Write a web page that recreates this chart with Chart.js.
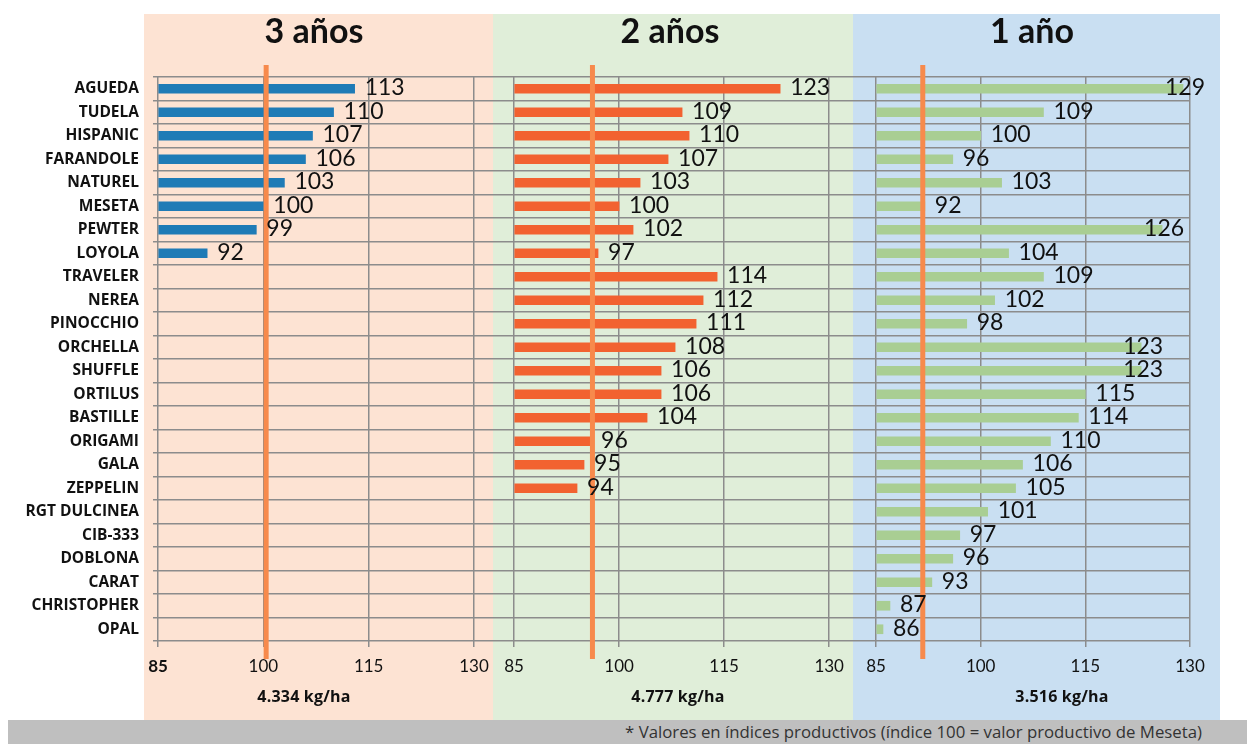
<!DOCTYPE html>
<html>
<head>
<meta charset="utf-8">
<script src="https://cdn.jsdelivr.net/npm/chart.js@4.4.1/dist/chart.umd.min.js"></script>
<style>
body { margin: 0; width: 1247px; height: 744px; position: relative; overflow: hidden; background: #fff; font-family: 'Open Sans', sans-serif; }
.panel { position: absolute; top: 14px; height: 706px; }
#bg1 { left: 144px; width: 349px; background: #fde3d3; }
#bg2 { left: 493px; width: 360px; background: #e0eed9; }
#bg3 { left: 853px; width: 367px; background: #c9dff2; }
canvas { position: absolute; top: 0; }
.title { position: absolute; top: 9px; width: 200px; margin-left: -100px; text-align: center; font: bold 34px Lato, sans-serif; color: #111; }
.unit { position: absolute; top: 685px; width: 200px; margin-left: -100px; text-align: center; font: bold 16px 'Open Sans', sans-serif; letter-spacing: 0.2px; color: #111; }
#footer { position: absolute; left: 8px; top: 720px; width: 1239px; height: 24px; background: #bfbfbf; }
#footer span { position: absolute; right: 45px; top: 0px; font: 16.8px 'Open Sans', sans-serif; color: #333; white-space: nowrap; }
</style>
</head>
<body>
<div class="panel" id="bg1"></div>
<div class="panel" id="bg2"></div>
<div class="panel" id="bg3"></div>
<canvas id="c1" width="493" height="720" style="left:0"></canvas>
<canvas id="c2" width="360" height="720" style="left:493px"></canvas>
<canvas id="c3" width="394" height="720" style="left:853px"></canvas>
<div class="title" style="left:314px">3 años</div>
<div class="title" style="left:670px">2 años</div>
<div class="title" style="left:1032px">1 año</div>
<div class="unit" style="left:304px">4.334 kg/ha</div>
<div class="unit" style="left:678px">4.777 kg/ha</div>
<div class="unit" style="left:1062px">3.516 kg/ha</div>
<div id="footer"><span>* Valores en índices productivos (índice 100 = valor productivo de Meseta)</span></div>
<script>
var varieties = ["AGUEDA", "TUDELA", "HISPANIC", "FARANDOLE", "NATUREL", "MESETA", "PEWTER", "LOYOLA",
    "TRAVELER", "NEREA", "PINOCCHIO", "ORCHELLA", "SHUFFLE", "ORTILUS", "BASTILLE", "ORIGAMI",
    "GALA", "ZEPPELIN", "RGT DULCINEA", "CIB-333", "DOBLONA", "CARAT", "CHRISTOPHER", "OPAL"];

var threeYears = [113, 110, 107, 106, 103, 100, 99, 92];
var twoYears = [123, 109, 110, 107, 103, 100, 102, 97, 114, 112, 111, 108, 106, 106, 104, 96, 95, 94];
var oneYear = [129, 109, 100, 96, 103, 92, 126, 104, 109, 102, 98, 123, 123, 115, 114, 110, 106, 105,
    101, 97, 96, 93, 87, 86];

var xTicks = [85, 100, 115, 130];
var refValues = [100.4, 96.2, 91.7];

var gridColor = '#8c8c8c';

// reference line + value labels, drawn over the bars
var overlayPlugin = {
    id: 'overlay',
    afterDatasetsDraw: function(chart, args, opts) {
        var ctx = chart.ctx;
        var x = chart.scales.x;
        var area = chart.chartArea;
        var px = x.getPixelForValue(opts.ref);
        ctx.save();
        ctx.strokeStyle = '#f78a4c';
        ctx.lineWidth = 5;
        ctx.beginPath();
        ctx.moveTo(px, area.top - 12);
        ctx.lineTo(px, area.bottom + 18);
        ctx.stroke();

        ctx.fillStyle = '#111';
        ctx.font = '23px Lato, sans-serif';
        ctx.textBaseline = 'middle';
        ctx.textAlign = 'left';
        var data = chart.data.datasets[0].data;
        chart.getDatasetMeta(0).data.forEach(function(bar, i) {
            var v = data[i];
            if (v == null) return;
            var tx = bar.x + 10;
            if (opts.insideAbove != null && v > opts.insideAbove) tx = bar.x - 18;
            ctx.fillText(String(v), tx, bar.y - 1);
        });
        ctx.restore();
    }
};

function makeChart(id, values, color, xmin, xmax, ref, showNames, padRight, insideAbove) {
    return new Chart(document.getElementById(id), {
        type: 'bar',
        data: {
            labels: varieties,
            datasets: [{
                data: values,
                backgroundColor: color,
                borderWidth: 0,
                barThickness: 9,
                base: 85
            }]
        },
        options: {
            indexAxis: 'y',
            responsive: false,
            animation: false,
            layout: { padding: { top: 77, left: 0, right: padRight, bottom: 0 } },
            plugins: {
                legend: { display: false },
                tooltip: { enabled: false },
                overlay: { ref: ref, insideAbove: insideAbove }
            },
            scales: {
                x: {
                    min: xmin,
                    max: xmax,
                    afterBuildTicks: function(axis) {
                        axis.ticks = xTicks.map(function(v) { return { value: v }; });
                    },
                    afterFit: function(scale) {
                        scale.height = 79;
                        scale.paddingLeft = 0;
                        scale.paddingRight = 0;
                    },
                    border: { display: false },
                    grid: { color: gridColor, lineWidth: 1.5, tickLength: 6 },
                    ticks: {
                        padding: 9,
                        color: '#111',
                        font: function(c) {
                            var bold = showNames && c.tick && c.tick.value === 85;
                            return { family: 'Lato', size: 17, weight: bold ? 'bold' : 'normal' };
                        }
                    }
                },
                y: {
                    afterFit: function(scale) { scale.width = showNames ? 158 : 0; },
                    border: { display: false },
                    grid: { color: gridColor, lineWidth: 1.5, drawTicks: showNames, tickLength: 5 },
                    ticks: {
                        display: showNames,
                        padding: 14,
                        color: '#111',
                        font: { family: 'Open Sans', size: 15.5, weight: 'bold' }
                    }
                }
            }
        },
        plugins: [overlayPlugin]
    });
}

makeChart('c1', threeYears, '#1f7bb6', 85, 132.7, refValues[0], true, 0, null);
makeChart('c2', twoYears, '#f26230', 82, 133.4, refValues[1], false, 0, null);
makeChart('c3', oneYear, '#a9ce93', 81.7, 130, refValues[2], false, 57, 120);
</script>
</body>
</html>
